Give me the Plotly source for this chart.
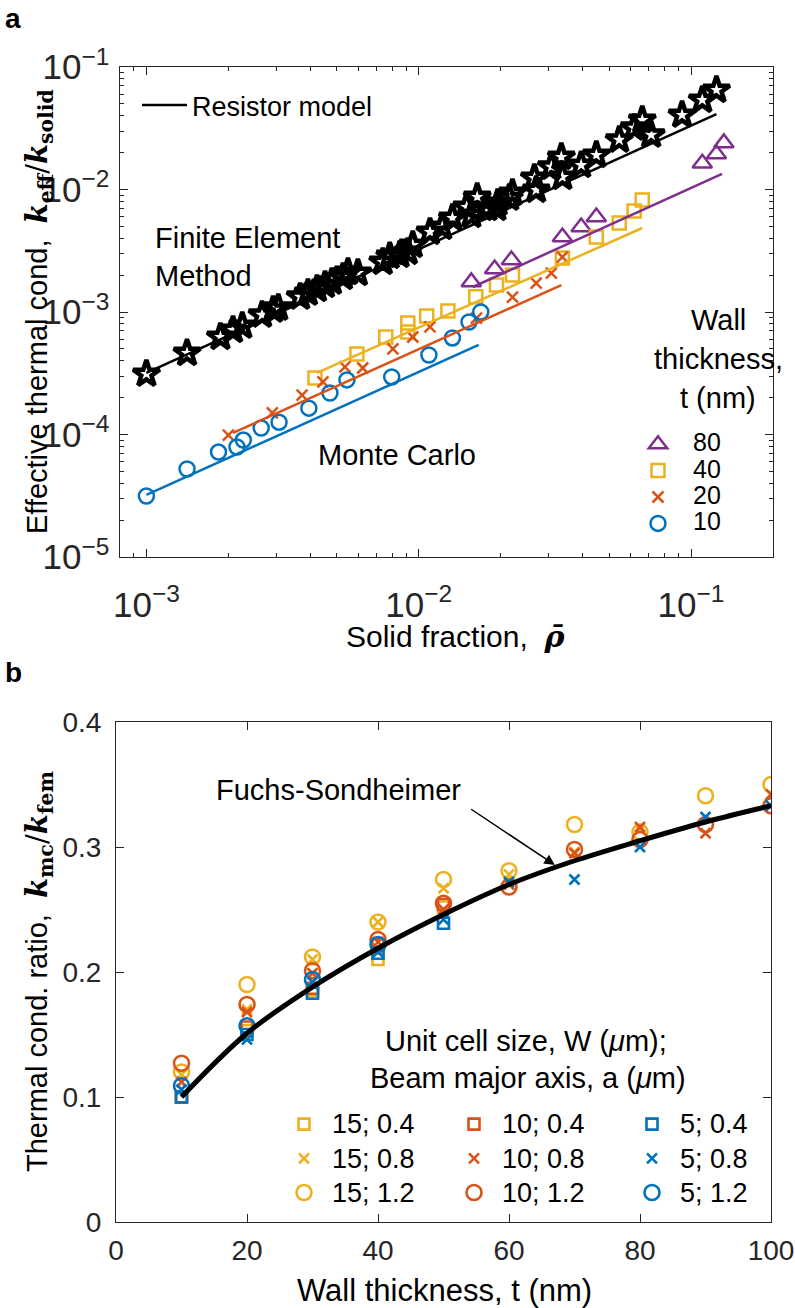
import math
import plotly.graph_objects as go

W, H = 795, 1308
FONT = "Liberation Sans, Arial, Helvetica, sans-serif"
SERIF = "DejaVu Serif, Liberation Serif, serif"
AXC = "#262626"

BLUE = "#0072BD"
ORANGE = "#D95319"
YELLOW = "#EDB120"
PURPLE = "#7E2F8E"

# ---------------- Panel a data ----------------
fem_rho = [1.0e-3, 1.41e-3, 1.87e-3, 2.08e-3, 2.25e-3, 2.66e-3, 2.92e-3, 3.05e-3,
           3.67e-3, 3.92e-3, 4.23e-3, 4.53e-3, 4.80e-3, 5.27e-3, 5.50e-3, 5.98e-3,
           7.38e-3, 7.83e-3, 8.51e-3, 9.12e-3, 9.51e-3, 1.10e-2, 1.22e-2, 1.33e-2,
           1.50e-2, 1.56e-2, 1.64e-2, 1.79e-2, 1.93e-2, 1.95e-2, 2.15e-2, 2.21e-2,
           2.66e-2, 2.70e-2, 3.07e-2, 3.34e-2, 3.37e-2, 3.95e-2, 4.49e-2, 5.45e-2,
           6.18e-2, 6.62e-2, 7.14e-2, 9.27e-2, 0.110, 0.124]
fem_k = [3.12e-4, 4.62e-4, 6.25e-4, 7.13e-4, 7.69e-4, 9.46e-4, 1.04e-3, 1.08e-3,
         1.33e-3, 1.43e-3, 1.54e-3, 1.66e-3, 1.76e-3, 1.93e-3, 2.12e-3, 2.08e-3,
         2.56e-3, 2.86e-3, 2.92e-3, 3.09e-3, 3.52e-3, 4.50e-3, 4.94e-3, 5.85e-3,
         7.19e-3, 6.19e-3, 8.69e-3, 7.06e-3, 7.06e-3, 7.76e-3, 8.53e-3, 9.36e-3,
         1.24e-2, 9.91e-3, 1.53e-2, 1.84e-2, 1.26e-2, 1.58e-2, 1.91e-2, 2.54e-2,
         3.18e-2, 3.69e-2, 2.79e-2, 4.06e-2, 5.38e-2, 6.49e-2]
resistor_rho = [1.0e-3, 0.124]
resistor_k = [3.18e-4, 4.13e-2]

mc80_rho = [1.56e-2, 1.90e-2, 2.19e-2, 3.37e-2, 3.95e-2, 4.49e-2, 0.110, 0.124, 0.132]
mc80_k = [1.76e-3, 2.24e-3, 2.66e-3, 4.09e-3, 4.94e-3, 5.97e-3, 1.64e-2, 1.95e-2, 2.40e-2]
mc80_line_rho = [1.58e-2, 0.130]
mc80_line_k = [1.60e-3, 1.34e-2]

mc40_rho = [4.16e-3, 5.93e-3, 7.57e-3, 9.12e-3, 9.12e-3, 1.07e-2, 1.28e-2, 1.62e-2,
            1.93e-2, 2.21e-2, 3.37e-2, 4.49e-2, 5.45e-2, 6.18e-2, 6.62e-2]
mc40_k = [2.89e-4, 4.54e-4, 6.25e-4, 8.13e-4, 6.87e-4, 9.27e-4, 1.02e-3, 1.33e-3,
          1.66e-3, 2.00e-3, 2.76e-3, 4.09e-3, 5.33e-3, 6.67e-3, 8.20e-3]
mc40_line_rho = [4.23e-3, 6.62e-2]
mc40_line_k = [3.18e-4, 4.85e-3]

mc20_rho = [2.00e-3, 2.90e-3, 3.73e-3, 4.45e-3, 5.36e-3, 6.23e-3, 8.04e-3, 9.51e-3,
            1.10e-2, 1.63e-2, 2.21e-2, 2.70e-2, 3.07e-2, 3.37e-2]
mc20_k = [9.9e-5, 1.50e-4, 2.10e-4, 2.69e-4, 3.56e-4, 3.49e-4, 4.99e-4, 6.25e-4,
          7.55e-4, 8.93e-4, 1.32e-3, 1.72e-3, 2.08e-3, 2.81e-3]
mc20_line_rho = [2.08e-3, 3.34e-2]
mc20_line_k = [1.03e-4, 1.66e-3]

mc10_rho = [1.0e-3, 1.41e-3, 1.84e-3, 2.15e-3, 2.27e-3, 2.64e-3, 3.07e-3, 3.95e-3,
            4.72e-3, 5.45e-3, 7.96e-3, 1.09e-2, 1.33e-2, 1.53e-2, 1.69e-2]
mc10_k = [3.15e-5, 5.23e-5, 7.19e-5, 7.90e-5, 9.01e-5, 1.13e-4, 1.26e-4, 1.64e-4,
          2.18e-4, 2.79e-4, 2.95e-4, 4.46e-4, 6.14e-4, 8.28e-4, 1.00e-3]
mc10_line_rho = [1.0e-3, 1.66e-2]
mc10_line_k = [3.21e-5, 5.38e-4]

# ---------------- Panel b data ----------------
t_nm = [10, 20, 30, 40, 50, 60, 70, 80, 90, 100]
w15_a04 = [0.100, 0.153, 0.185, 0.210, 0.252, None, None, None, None, None]
w15_a08 = [0.118, 0.170, 0.210, 0.240, 0.267, 0.278, 0.296, 0.314, None, 0.342]
w15_a12 = [0.120, 0.190, 0.212, 0.240, 0.274, 0.281, 0.318, 0.312, 0.341, 0.350]
w10_a04 = [0.100, 0.156, 0.187, 0.222, 0.254, None, None, None, None, None]
w10_a08 = [0.112, 0.168, 0.199, 0.224, 0.250, 0.270, 0.295, 0.316, 0.311, 0.342]
w10_a12 = [0.127, 0.174, 0.201, 0.226, 0.255, 0.268, 0.298, 0.306, 0.318, 0.333]
w5_a04 = [0.100, 0.150, 0.183, 0.215, 0.239, None, None, None, None, None]
w5_a08 = [0.106, 0.146, 0.192, 0.216, 0.242, 0.272, 0.274, 0.300, 0.324, 0.333]
w5_a12 = [0.109, 0.157, 0.194, 0.222, None, None, None, None, None, None]
fs_t = [10, 20, 30, 40, 50, 60, 70, 80, 90, 100]
fs_ratio = [0.100, 0.151, 0.188, 0.219, 0.246, 0.270, 0.289, 0.305, 0.320, 0.333]


def px(x):
    return x / W


def py(y):
    return 1 - y / H


fig = go.Figure()

# ---- panel a markers ----
fig.add_trace(go.Scatter(x=fem_rho, y=fem_k, mode="markers", xaxis="x", yaxis="y",
                         marker=dict(symbol="star-open", size=20, color="black",
                                     line=dict(width=4.5, color="black")),
                         showlegend=False))

mc_sets = [
    ("80", mc80_rho, mc80_k, mc80_line_rho, mc80_line_k, PURPLE, "triangle-up-open", 17),
    ("40", mc40_rho, mc40_k, mc40_line_rho, mc40_line_k, YELLOW, "square-open", 13),
    ("20", mc20_rho, mc20_k, mc20_line_rho, mc20_line_k, ORANGE, "x-thin-open", 11),
    ("10", mc10_rho, mc10_k, mc10_line_rho, mc10_line_k, BLUE, "circle-open", 15),
]
for name, xr, yk, lx, ly, col, sym, sz in mc_sets:
    fig.add_trace(go.Scatter(x=xr, y=yk, mode="markers", xaxis="x", yaxis="y",
                             name='<span style="font-size:25px">%s</span>' % name,
                             legend="legend2",
                             marker=dict(symbol=sym, size=sz, color=col,
                                         line=dict(width=2.5, color=col))))
for name, xr, yk, lx, ly, col, sym, sz in mc_sets:
    fig.add_trace(go.Scatter(x=lx, y=ly, mode="lines", xaxis="x", yaxis="y",
                             line=dict(color=col, width=2.5), showlegend=False))

fig.add_trace(go.Scatter(x=resistor_rho, y=resistor_k, mode="lines", xaxis="x", yaxis="y",
                         name="Resistor model", legend="legend",
                         line=dict(color="black", width=2.5)))

# ---- panel b markers ----
groups = [
    ("legend3", YELLOW, "15", [w15_a04, w15_a08, w15_a12]),
    ("legend4", ORANGE, "10", [w10_a04, w10_a08, w10_a12]),
    ("legend5", BLUE, "5", [w5_a04, w5_a08, w5_a12]),
]
a_labels = ["0.4", "0.8", "1.2"]
syms = [("square-open", 11), ("x-thin-open", 10), ("circle-open", 15)]
for leg, col, wlab, series in groups:
    for (sym, sz), alab, vals in zip(syms, a_labels, series):
        fig.add_trace(go.Scatter(x=t_nm, y=vals, mode="markers", xaxis="x2", yaxis="y2",
                                 name='<span style="font-size:27px">%s; %s</span>' % (wlab, alab),
                                 legend=leg,
                                 marker=dict(symbol=sym, size=sz, color=col,
                                             line=dict(width=2.6, color=col))))

fig.add_trace(go.Scatter(x=fs_t, y=fs_ratio, mode="lines", xaxis="x2", yaxis="y2",
                         line=dict(color="black", width=5, shape="spline"),
                         showlegend=False))

tickfont = dict(family=FONT, size=28, color=AXC)
common = dict(showline=True, linecolor=AXC, linewidth=1, mirror="ticks", ticks="inside",
              ticklen=8, tickwidth=1, tickcolor=AXC, showgrid=False, zeroline=False,
              tickfont=tickfont)
minor = dict(ticks="inside", ticklen=4, tickwidth=1, tickcolor=AXC, dtick="D1", showgrid=False)

legend_common = dict(bgcolor="rgba(0,0,0,0)", borderwidth=0, orientation="v",
                     xanchor="left", yanchor="top", traceorder="normal")

fig.update_layout(
    width=W, height=H, margin=dict(l=0, r=0, t=0, b=0, autoexpand=False),
    paper_bgcolor="white", plot_bgcolor="white",
    font=dict(family=FONT, size=28, color="black"),
    xaxis=dict(domain=[px(120), px(773)], anchor="y", type="log",
               range=[math.log10(8e-4), math.log10(0.2)], dtick=1,
               exponentformat="power", minor=minor, ticklabelstandoff=18, **common),
    yaxis=dict(domain=[py(557), py(67)], anchor="x", type="log", range=[-5, -1], dtick=1,
               exponentformat="power", minor=minor, ticklabelstandoff=4, **common),
    xaxis2=dict(domain=[px(116), px(771)], anchor="y2", range=[0, 100], dtick=20,
                ticklabelstandoff=3, **common),
    yaxis2=dict(domain=[py(1222), py(722)], anchor="x2", range=[0, 0.4], dtick=0.1,
                ticklabelstandoff=8, **common),
    legend=dict(x=px(137), y=py(81), itemwidth=45, font=dict(family=FONT, size=27),
                **legend_common),
    legend2=dict(x=px(623), y=py(426), itemwidth=60, font=dict(family=FONT, size=18),
                 **legend_common),
    legend3=dict(x=px(276), y=py(1102), itemwidth=46, font=dict(family=FONT, size=24),
                 **legend_common),
    legend4=dict(x=px(446), y=py(1102), itemwidth=46, font=dict(family=FONT, size=24),
                 **legend_common),
    legend5=dict(x=px(624), y=py(1102), itemwidth=46, font=dict(family=FONT, size=24),
                 **legend_common),
)

kspan = '<span style="font-family:%s">' % SERIF
TXT = dict(xanchor="center", yanchor="middle", showarrow=False)
ann = []
ann.append(dict(text="<b>a</b>", x=px(13), y=py(18), xref="paper", yref="paper",
                font=dict(size=28), **TXT))
ann.append(dict(text="<b>b</b>", x=px(13), y=py(672), xref="paper", yref="paper",
                font=dict(size=28), **TXT))
ann.append(dict(text="Effective thermal cond,  " + kspan +
                "<b><i>k</i></b><sub><b>eff</b></sub>/<b><i>k</i></b><sub><b>solid</b></sub></span>",
                x=px(39), y=py(312), xref="paper", yref="paper", textangle=-90,
                font=dict(size=29), **TXT))
ann.append(dict(text="Solid fraction,  " + kspan + "<b><i>ρ̄</i></b></span>",
                x=px(455), y=py(636), xref="paper", yref="paper",
                font=dict(size=30), **TXT))
ann.append(dict(text="Thermal cond. ratio,  " + kspan +
                "<b><i>k</i></b><sub><b>mc</b></sub>/<b><i>k</i></b><sub><b>fem</b></sub></span>",
                x=px(39), y=py(972), xref="paper", yref="paper", textangle=-90,
                font=dict(size=29), **TXT))
ann.append(dict(text="Wall thickness, t (nm)", x=px(444), y=py(1290), xref="paper",
                yref="paper", font=dict(size=31), **TXT))

# panel a text labels (data coordinates; log axes take log10 values)
ann.append(dict(text="Finite Element", x=math.log10(1.06e-3), y=math.log10(4.0e-3),
                xref="x", yref="y", xanchor="left", yanchor="middle", showarrow=False,
                font=dict(size=29)))
ann.append(dict(text="Method", x=math.log10(1.06e-3), y=math.log10(1.95e-3),
                xref="x", yref="y", xanchor="left", yanchor="middle", showarrow=False,
                font=dict(size=29)))
ann.append(dict(text="Monte Carlo", x=math.log10(4.2e-3), y=math.log10(6.8e-5),
                xref="x", yref="y", xanchor="left", yanchor="middle", showarrow=False,
                font=dict(size=29)))
for txt, yy in [("Wall", 320), ("thickness,", 359), ("t (nm)", 398)]:
    ann.append(dict(text=txt, x=px(718), y=py(yy), xref="paper", yref="paper",
                    font=dict(size=29), **TXT))

# panel b labels
ann.append(dict(text="Fuchs-Sondheimer", x=34, y=0.3456, xref="x2", yref="y2",
                font=dict(size=29), **TXT))
ann.append(dict(text="", x=67, y=0.2856, ax=54, ay=0.331, xref="x2", yref="y2",
                axref="x2", ayref="y2", showarrow=True, arrowhead=2, arrowsize=1.4,
                arrowwidth=1.5, arrowcolor="black"))
ann.append(dict(text="Unit cell size, W (<i>μ</i>m);", x=px(526), y=py(1041), xref="paper",
                yref="paper", font=dict(size=29), **TXT))
ann.append(dict(text="Beam major axis, a (<i>μ</i>m)", x=px(528), y=py(1078), xref="paper",
                yref="paper", font=dict(size=29), **TXT))

fig.update_layout(annotations=ann)
fig.write_html("out.html")
